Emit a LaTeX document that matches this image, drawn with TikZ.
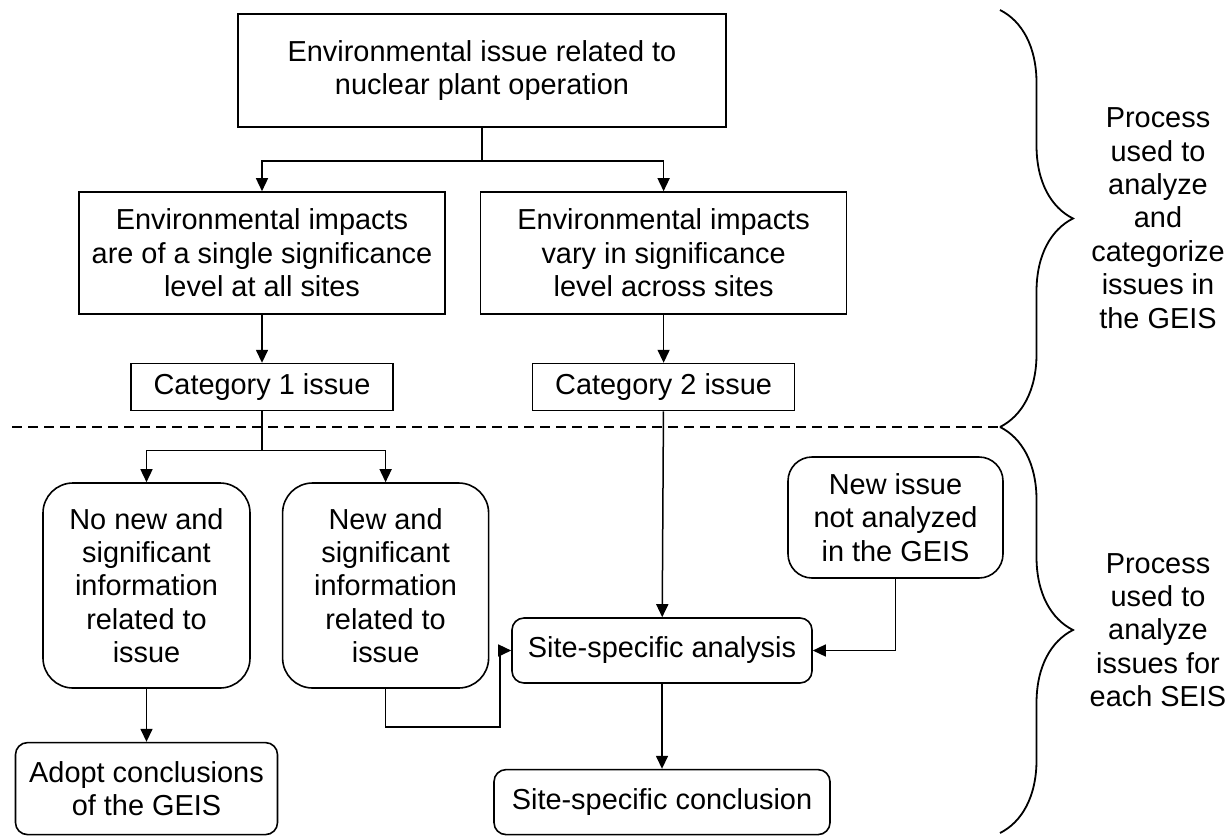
\documentclass[tikz,border=0pt]{standalone}
\usepackage{fontspec}
\setmainfont{Liberation Sans}
\usetikzlibrary{arrows.meta, positioning, decorations.pathreplacing}

\begin{document}
\begin{tikzpicture}[
  x=0.5pt, y=-0.5pt,
  >={Triangle[width=6pt, length=6.5pt]},
  font=\fontsize{14.45}{16.7}\selectfont,
  sqbox/.style={draw, rectangle, line width=0.8pt, inner sep=2pt, align=center},
  rndbox/.style={sqbox, rounded corners=#1},
  rndbox/.default=6pt,
  flow/.style={->, line width=0.75pt},
  sepline/.style={dash pattern=on 5pt off 3pt, line width=1pt},
  bracket/.style={decorate, decoration={brace, amplitude=36.5pt}, line width=0.9pt},
  sidenote/.style={align=center, inner sep=0pt}
]
\useasboundingbox (0,0) rectangle (1229,835);

% GEIS part
\node[sqbox, minimum width=244pt, minimum height=56.5pt] (Issue) at (482,70.5) {Environmental issue related to\\nuclear plant operation};
\node[sqbox, minimum width=183pt, minimum height=61pt] (ImpSingle) at (262,253) {Environmental impacts\\are of a single significance\\level at all sites};
\node[sqbox, minimum width=183pt, minimum height=61pt] (ImpVary) [right=17pt of ImpSingle] {Environmental impacts\\vary in significance\\level across sites};
\node[sqbox, minimum width=131pt, minimum height=23.5pt] (CatOne) [below=24pt of ImpSingle] {Category 1 issue};
\node[sqbox, minimum width=131pt, minimum height=23.5pt] (CatTwo) [below=24pt of ImpVary] {Category 2 issue};

% SEIS part
\node[rndbox=15pt, minimum width=103.5pt, minimum height=102.5pt] (NoNew) at (146.5,585.5) {No new and\\significant\\information\\related to\\issue};
\node[rndbox=15pt, minimum width=103pt, minimum height=102.5pt] (NewInfo) [right=15.5pt of NoNew] {New and\\significant\\information\\related to\\issue};
\node[rndbox, minimum width=131pt, minimum height=46pt] (Adopt) [below=26.5pt of NoNew] {Adopt conclusions\\of the GEIS};
\node[rndbox=12pt, minimum width=107.5pt, minimum height=60.5pt] (NewIssue) at (895.5,517.5) {New issue\\not analyzed\\in the GEIS};
\node[rndbox, minimum width=150pt, minimum height=32.5pt] (SiteAna) at (662,650.5) {Site-specific analysis};
\node[rndbox, minimum width=168pt, minimum height=32.5pt] (SiteCon) [below=42.5pt of SiteAna] {Site-specific conclusion};

% top split
\draw[flow] (Issue.south) -- ++(0,33) -| (ImpSingle.north);
\draw[flow] (Issue.south) -- ++(0,33) -| (ImpVary.north);
\draw[flow] (ImpSingle) -- (CatOne);
\draw[flow] (ImpVary) -- (CatTwo);

% Category 1 split
\draw[flow] (CatOne.south) -- ++(0,39) -| (NoNew.north);
\draw[flow] (CatOne.south) -- ++(0,39) -| (NewInfo.north);
\draw[flow] (NoNew) -- (Adopt);

% site-specific path
\draw[flow] (CatTwo) -- (SiteAna);
\draw[flow] (NewInfo.south) -- ++(0,38) -| ([xshift=-5.5pt]SiteAna.west) -- (SiteAna.west);
\draw[flow] (NewIssue.south) |- (SiteAna.east);
\draw[flow] (SiteAna) -- (SiteCon);

% separator and braces
\coordinate (SepL) at (12,427);
\coordinate (SepR) at (1000,427);
\coordinate (BrTop) at (1000,10);
\coordinate (BrBot) at (1000,833);
\draw[sepline] (SepL) -- (SepR);
\draw[bracket] (BrTop) -- (SepR);
\draw[bracket] (SepR) -- (BrBot);
\node[sidenote] (GeisNote) at (1158,218) {Process\\used to\\analyze\\and\\categorize\\issues in\\the GEIS};
\node[sidenote] (SeisNote) at (1158,630) {Process\\used to\\analyze\\issues for\\each SEIS};

\end{tikzpicture}
\end{document}
